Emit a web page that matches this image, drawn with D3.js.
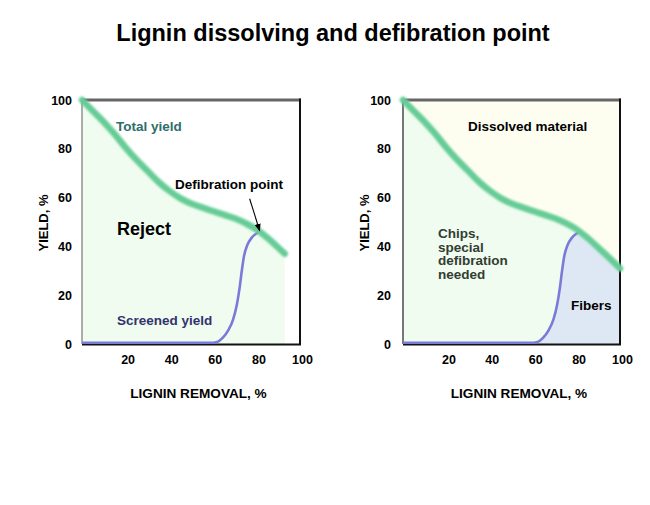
<!DOCTYPE html>
<html><head><meta charset="utf-8">
<script src="https://cdn.jsdelivr.net/npm/d3@7"></script>
<style>body{margin:0;background:#fff}svg{display:block}text{font-family:Arial,"Liberation Sans",sans-serif;font-weight:bold}</style>
</head><body>
<script>
// ---- data ----
const totalX = [0, 5, 10, 15, 20, 25, 30, 35, 40, 45, 50, 55, 60, 65, 70, 75, 80, 85, 90, 93, 100];
const totalY = [100, 95.5, 91, 86, 80.5, 75.5, 71, 66.5, 62.8, 59.8, 57.6, 56, 54.5, 53, 51.5, 49.5, 47, 43.5, 39.5, 37, 31];
const screenedX = [0, 20, 40, 60, 62, 64.5, 67, 69.3, 71, 72.3, 73.3, 74.3, 75.8, 77.8, 80, 81.5];
const screenedY = [0.5, 0.5, 0.5, 0.5, 0.8, 2.5, 5.5, 10, 16, 23, 30, 36, 40.5, 43.5, 45.3, 46];
const xTicks = [20, 40, 60, 80, 100];
const yTicks = [0, 20, 40, 60, 80, 100];
const leftEndX = 93;
const defibX = 81.5, defibY = 46;

const W = 650, H = 505;
const svg = d3.select("body").append("svg").attr("width", W).attr("height", H);
svg.append("rect").attr("width", W).attr("height", H).attr("fill", "#fff");
const defs = svg.append("defs");
defs.append("filter").attr("id", "blur").attr("x", "-10%").attr("y", "-10%").attr("width", "120%").attr("height", "120%")
  .append("feGaussianBlur").attr("stdDeviation", 1.3);
defs.append("marker").attr("id", "arr").attr("viewBox", "0 0 10 10").attr("refX", 9).attr("refY", 5)
  .attr("markerWidth", 7).attr("markerHeight", 7).attr("orient", "auto")
  .append("path").attr("d", "M0,1L10,5L0,9Z").attr("fill", "#000");

svg.append("text").attr("x", 333).attr("y", 41).attr("text-anchor", "middle")
  .attr("font-size", 23.5).attr("fill", "#000").text("Lignin dissolving and defibration point");

const total = totalX.map((x, i) => [x, totalY[i]]);
const screened = screenedX.map((x, i) => [x, screenedY[i]]);
const y = d3.scaleLinear().domain([0, 100]).range([344, 100]);

function panel(x0, x1, right) {
  const x = d3.scaleLinear().domain([0, 100]).range([x0, x1]);
  const g = svg.append("g");
  const line = d3.line().x(d => x(d[0])).y(d => y(d[1])).curve(d3.curveMonotoneX);
  const sline = d3.line().x(d => x(d[0])).y(d => y(d[1])).curve(d3.curveMonotoneX);
  const area = d3.area().x(d => x(d[0])).y0(y(0)).y1(d => y(d[1])).curve(d3.curveMonotoneX);
  const tot = right ? total : total.filter(d => d[0] <= leftEndX);

  if (right) {
    g.append("rect").attr("x", x(0)).attr("y", y(100)).attr("width", x(100) - x(0)).attr("height", y(0) - y(100)).attr("fill", "#fefef0");
  }
  g.append("path").attr("d", area(tot)).attr("fill", "#effcef");
  if (right) {
    const sPart = screened.filter(d => d[0] >= 60);
    const tPart = total.filter(d => d[0] > defibX);
    const p = sline(sPart) + line([[defibX, defibY]].concat(tPart)).replace(/^M/, "L") +
      "L" + x(100) + "," + y(0) + "L" + x(60) + "," + y(0) + "Z";
    g.append("path").attr("d", p).attr("fill", "#dee8f4");
  }
  // frame
  g.append("line").attr("x1", x(0)).attr("x2", x(0)).attr("y1", y(100)).attr("y2", y(0)).attr("stroke", "#777").attr("stroke-width", right ? 2 : 1.2);
  g.append("line").attr("x1", x(0)).attr("x2", x(100) + 1).attr("y1", y(100)).attr("y2", y(100)).attr("stroke", "#666").attr("stroke-width", 3);
  g.append("line").attr("x1", x(100)).attr("x2", x(100)).attr("y1", y(100) - 1.5).attr("y2", y(0) + 1).attr("stroke", "#111").attr("stroke-width", 2);
  g.append("line").attr("x1", x(0)).attr("x2", x(100) + 1).attr("y1", y(0) + 0.5).attr("y2", y(0) + 0.5).attr("stroke", "#111").attr("stroke-width", 2);

  // curves
  g.append("path").attr("d", sline(screened)).attr("fill", "none").attr("stroke", "#7a7ad8").attr("stroke-width", 2.6);
  g.append("path").attr("d", line(tot)).attr("fill", "none").attr("stroke", "#66cc96").attr("stroke-width", 6.5)
    .attr("stroke-linecap", "round").attr("filter", "url(#blur)");

  // axes (labels only)
  const ya = g.append("g").attr("transform", `translate(${x(0)},0)`)
    .call(d3.axisLeft(y).tickValues(yTicks).tickSize(0).tickPadding(right ? 12 : 10));
  const xa = g.append("g").attr("transform", `translate(0,${y(0)})`)
    .call(d3.axisBottom(x).tickValues(xTicks).tickSize(0).tickPadding(11));
  [ya, xa].forEach(a => {
    a.select(".domain").remove();
    a.selectAll("text").attr("font-size", 12.5).attr("fill", "#000")
      .attr("font-family", "Arial, 'Liberation Sans', sans-serif").attr("font-weight", "bold");
  });
  xa.selectAll("text").attr("dx", 2);

  g.append("text").attr("x", (x0 + x1) / 2 + 7.5).attr("y", 398).attr("text-anchor", "middle")
    .attr("font-size", 13.6).attr("fill", "#000").text("LIGNIN REMOVAL, %");
  g.append("text").attr("transform", `translate(${x0 - 34},223) rotate(-90)`).attr("text-anchor", "middle")
    .attr("font-size", 13).attr("fill", "#000").text("YIELD, %");

  if (!right) {
    g.append("text").attr("x", 116).attr("y", 131).attr("font-size", 13.5).attr("fill", "#2e6e6a").text("Total yield");
    g.append("text").attr("x", 175).attr("y", 189).attr("font-size", 13.5).attr("fill", "#000").text("Defibration point");
    g.append("text").attr("x", 117).attr("y", 235).attr("font-size", 18).attr("fill", "#000").text("Reject");
    g.append("text").attr("x", 117).attr("y", 325).attr("font-size", 13.5).attr("fill", "#33336e").text("Screened yield");
    g.append("line").attr("x1", x(defibX) - 10).attr("y1", y(defibY) - 33).attr("x2", x(defibX)).attr("y2", y(defibY) - 1)
      .attr("stroke", "#000").attr("stroke-width", 1.1).attr("marker-end", "url(#arr)");
  } else {
    g.append("text").attr("x", 468).attr("y", 131).attr("font-size", 13.5).attr("fill", "#000").text("Dissolved material");
    const t = g.append("text").attr("x", 438).attr("y", 238).attr("font-size", 13.5).attr("fill", "#333d33");
    ["Chips,", "special", "defibration", "needed"].forEach((s, i) =>
      t.append("tspan").attr("x", 438).attr("dy", i ? 13.7 : 0).text(s));
    g.append("text").attr("x", 571).attr("y", 310).attr("font-size", 13.5).attr("fill", "#000").text("Fibers");
  }
}
panel(82, 300, false);
panel(403, 620, true);
</script>
</body></html>
